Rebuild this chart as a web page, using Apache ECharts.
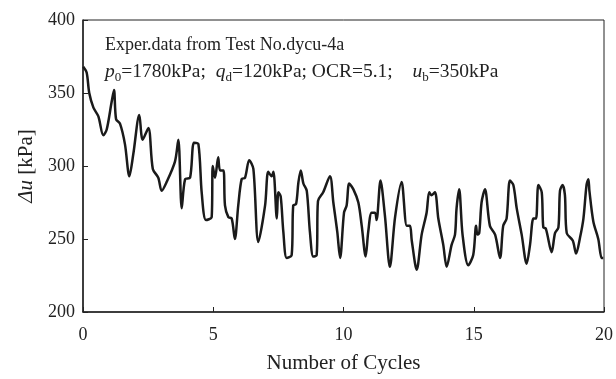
<!DOCTYPE html>
<html>
<head>
<meta charset="utf-8">
<script src="https://cdn.jsdelivr.net/npm/echarts@6/dist/echarts.min.js"></script>
<style>
  html, body { margin: 0; padding: 0; background: #fff; }
</style>
</head>
<body>
<div id="chart" style="width: 616px; height: 379px"></div>
<script>
// number of cycles (x) and excess pore pressure du in kPa (y)
var cycles = [
  0.01, 0.14, 0.24, 0.40, 0.59, 0.78, 0.91, 1.10, 1.19, 1.27, 1.42, 1.61, 1.78, 1.93,
  2.16, 2.29, 2.51, 2.68, 2.89, 3.02, 3.21, 3.53, 3.66, 3.79, 3.92, 4.11, 4.26, 4.43,
  4.56, 4.72, 4.94, 4.98, 5.07, 5.19, 5.26, 5.39, 5.45, 5.58, 5.71, 5.83, 5.96, 6.09,
  6.22, 6.38, 6.54, 6.73, 6.99, 7.11, 7.24, 7.31, 7.44, 7.50, 7.59, 7.69, 7.82, 8.01,
  8.07, 8.18, 8.27, 8.36, 8.46, 8.59, 8.71, 8.84, 8.97, 9.02, 9.22, 9.48, 9.61, 9.76,
  9.87, 10.02, 10.12, 10.22, 10.38, 10.57, 10.70, 10.85, 10.95, 11.08, 11.21, 11.27,
  11.42, 11.59, 11.78, 11.98, 12.23, 12.43, 12.55, 12.62, 12.81, 13.00, 13.19, 13.29,
  13.38, 13.51, 13.64, 13.83, 13.96, 14.15, 14.28, 14.34, 14.44, 14.57, 14.79, 14.98,
  15.09, 15.14, 15.21, 15.30, 15.43, 15.62, 15.82, 16.01, 16.13, 16.26, 16.39, 16.52,
  16.65, 16.84, 17.03, 17.16, 17.29, 17.39, 17.48, 17.61, 17.67, 17.77, 17.99, 18.12,
  18.25, 18.31, 18.41, 18.50, 18.57, 18.80, 18.93, 19.08, 19.21, 19.33, 19.40, 19.44,
  19.59, 19.78, 19.91, 19.97
];
var porePressure = [
  368, 364, 350, 340, 334, 321, 325, 344, 352, 332, 329, 315, 293, 308,
  335, 318, 326, 298, 292, 283, 289, 303, 318, 271, 291, 292, 316, 315,
  281, 263, 265, 300, 292, 306, 297, 297, 273, 265, 264, 250, 273, 291,
  292, 304, 298, 248, 273, 296, 293, 296, 264, 282, 279, 255, 237, 239,
  273, 274, 289, 297, 288, 283, 255, 238, 239, 276, 282, 293, 275, 255,
  237, 268, 273, 288, 284, 275, 259, 238, 255, 268, 268, 263,
  290, 266, 231, 265, 289, 259, 259, 249, 229, 253, 268, 282,
  280, 282, 264, 246, 231, 246, 253, 271, 284, 253, 232, 239,
  259, 253, 254, 275, 284, 259, 253, 237, 259, 264, 290, 287,
  271, 253, 233, 246, 264, 264, 287, 282, 258, 257, 241, 254,
  258, 283, 287, 280, 254, 249, 240, 251, 264, 287, 291, 283,
  262, 250, 237, 237
];
var xTicks = [0, 5, 10, 15, 20];
var yTicks = [200, 250, 300, 350, 400];

var serif = "Liberation Serif";
var chart = echarts.init(document.getElementById("chart"));

var option = {
  backgroundColor: "#fff",
  animation: false,
  grid: {
    left: 83,
    right: 12,
    top: 20,
    bottom: 65,
    show: true,
    borderColor: "#222",
    borderWidth: 1
  },
  xAxis: {
    type: "value",
    min: xTicks[0],
    max: xTicks[xTicks.length - 1],
    interval: 5,
    name: "Number of Cycles",
    nameLocation: "middle",
    nameGap: 41,
    nameTextStyle: { fontFamily: serif, fontSize: 21, color: "#222" },
    axisLine: { lineStyle: { color: "#222", width: 1.5 } },
    axisTick: { inside: true, length: 5, lineStyle: { color: "#222" } },
    axisLabel: { fontFamily: serif, fontSize: 18, color: "#222", margin: 14 },
    splitLine: { show: false }
  },
  yAxis: {
    type: "value",
    min: yTicks[0],
    max: yTicks[yTicks.length - 1],
    interval: 50,
    name: "{i|Δu} [kPa]",
    nameLocation: "middle",
    nameRotate: 90,
    nameGap: 43,
    nameTextStyle: {
      fontFamily: serif, fontSize: 21, color: "#222",
      rich: { i: { fontFamily: serif, fontSize: 21, fontStyle: "italic", color: "#222" } }
    },
    axisLine: { lineStyle: { color: "#222", width: 1.5 } },
    axisTick: { inside: true, length: 5, lineStyle: { color: "#222" } },
    axisLabel: { fontFamily: serif, fontSize: 18, color: "#222", margin: 8 },
    splitLine: { show: false }
  },
  graphic: [
    {
      type: "text",
      left: 105,
      top: 36,
      style: {
        text: "Exper.data from Test No.dycu-4a",
        fontFamily: serif,
        fontSize: 18,
        fill: "#222"
      }
    },
    {
      type: "text",
      left: 105,
      top: 62,
      style: {
        text: "{i|p}{s|0}=1780kPa; {g1|}{i|q}{s|d}=120kPa; OCR=5.1; {g3|}{i|u}{s|b}=350kPa",
        fontFamily: serif,
        fontSize: 19.5,
        fill: "#222",
        rich: {
          i: { fontFamily: serif, fontSize: 19.5, fontStyle: "italic", fill: "#222" },
          s: { fontFamily: serif, fontSize: 13, fill: "#222", padding: [11, 0, 0, 0] },
          g1: { width: 5 },
          g3: { width: 15 }
        }
      }
    }
  ],
  series: [
    {
      type: "line",
      data: cycles.map(function (c, i) { return [c, porePressure[i]]; }),
      showSymbol: false,
      smooth: 0.3,
      lineStyle: { color: "#1a1a1a", width: 2.5 }
    }
  ]
};

chart.setOption(option);
</script>
</body>
</html>
